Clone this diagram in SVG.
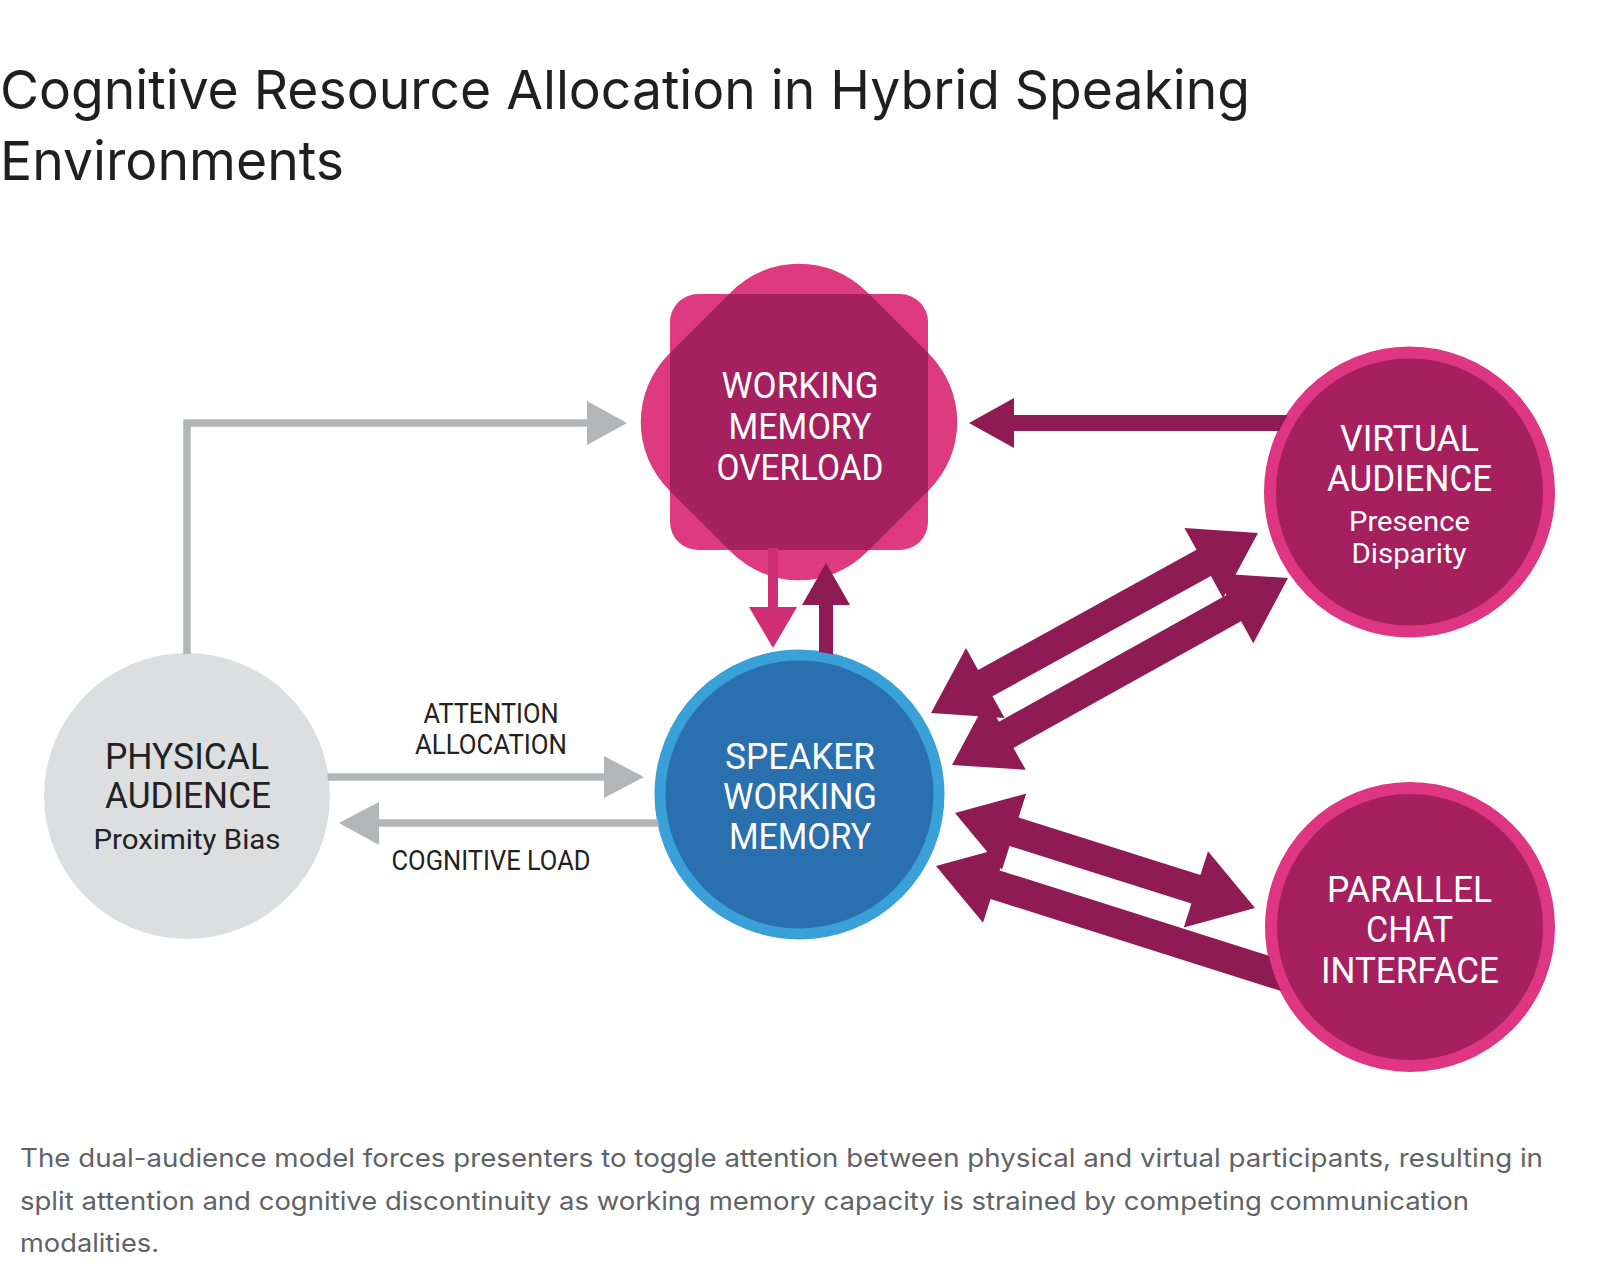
<svg xmlns="http://www.w3.org/2000/svg" width="1600" height="1278" viewBox="0 0 1600 1278">
<style>
.title{font-family:Inter,"Liberation Sans",sans-serif;font-size:54px;fill:#1f1f1f}
.cap{font-family:Inter,"Liberation Sans",sans-serif;font-size:25.5px;fill:#5f6368}
.lw{font-family:Roboto,"Liberation Sans",sans-serif;fill:#fff;text-anchor:middle}
.ld{font-family:Roboto,"Liberation Sans",sans-serif;fill:#222;text-anchor:middle}
.big{font-size:37px}
.sub{font-size:27.5px}
.edge{font-size:28px}
.gray{fill:#b3b5b8}
.gline{fill:none;stroke:#b3b5b8;stroke-width:7.5}
.mag{fill:#8e1b53}
.ring-p{fill:#a6205f;stroke:#de3682;stroke-width:12}
</style>
<defs>
<clipPath id="sq"><rect x="670" y="294" width="258" height="256" rx="28"/></clipPath>
<mask id="cut" maskUnits="userSpaceOnUse" x="0" y="0" width="1600" height="1278">
<rect width="1600" height="1278" fill="#fff"/>
<circle cx="1409.5" cy="492" r="144" fill="#000"/>
<circle cx="1410" cy="927" r="144" fill="#000"/>
<circle cx="799.5" cy="794.5" r="144" fill="#000"/>
<circle cx="187" cy="796" r="142" fill="#000"/>
</mask>
</defs>
<rect width="1600" height="1278" fill="#fff"/>

<g id="title">
<text class="title" x="0" y="109" textLength="1250" lengthAdjust="spacingAndGlyphs">Cognitive Resource Allocation in Hybrid Speaking</text>
<text class="title" x="0" y="180" textLength="344" lengthAdjust="spacingAndGlyphs">Environments</text>
</g>

<g id="node-wmo">
<rect x="670" y="294" width="258" height="256" rx="28" fill="#dd3a80"/>
<rect x="659" y="282" width="280" height="280" rx="96" fill="#dd3a80" transform="rotate(45 799 422)"/>
<g clip-path="url(#sq)">
<rect x="659" y="282" width="280" height="280" rx="96" fill="#a5205e" transform="rotate(45 799 422)"/>
</g>
<text class="lw big" x="800" y="398" textLength="157" lengthAdjust="spacingAndGlyphs">WORKING</text>
<text class="lw big" x="800" y="439" textLength="143" lengthAdjust="spacingAndGlyphs">MEMORY</text>
<text class="lw big" x="800" y="480" textLength="167" lengthAdjust="spacingAndGlyphs">OVERLOAD</text>
</g>

<g id="node-speaker">
<circle cx="799.5" cy="794.5" r="139.5" fill="#2a6fae" stroke="#3aa0d8" stroke-width="11"/>
<text class="lw big" x="800" y="769" textLength="150" lengthAdjust="spacingAndGlyphs">SPEAKER</text>
<text class="lw big" x="800" y="809" textLength="154" lengthAdjust="spacingAndGlyphs">WORKING</text>
<text class="lw big" x="800" y="849" textLength="142" lengthAdjust="spacingAndGlyphs">MEMORY</text>
</g>

<g id="node-physical">
<circle cx="187" cy="796" r="143" fill="#dcdee0"/>
<text class="ld big" x="187" y="769" textLength="164" lengthAdjust="spacingAndGlyphs">PHYSICAL</text>
<text class="ld big" x="188" y="808" textLength="166" lengthAdjust="spacingAndGlyphs">AUDIENCE</text>
<text class="ld sub" x="187" y="849" textLength="187" lengthAdjust="spacingAndGlyphs">Proximity Bias</text>
</g>

<g id="node-virtual">
<circle class="ring-p" cx="1409.5" cy="492" r="139.5"/>
<text class="lw big" x="1409.5" y="451" textLength="139" lengthAdjust="spacingAndGlyphs">VIRTUAL</text>
<text class="lw big" x="1409.5" y="491" textLength="165" lengthAdjust="spacingAndGlyphs">AUDIENCE</text>
<text class="lw sub" x="1409.5" y="531" textLength="121" lengthAdjust="spacingAndGlyphs">Presence</text>
<text class="lw sub" x="1409" y="563" textLength="115" lengthAdjust="spacingAndGlyphs">Disparity</text>
</g>

<g id="node-chat">
<circle class="ring-p" cx="1410" cy="927" r="139"/>
<text class="lw big" x="1409.5" y="902" textLength="165" lengthAdjust="spacingAndGlyphs">PARALLEL</text>
<text class="lw big" x="1409.5" y="942" textLength="87" lengthAdjust="spacingAndGlyphs">CHAT</text>
<text class="lw big" x="1410" y="983" textLength="178" lengthAdjust="spacingAndGlyphs">INTERFACE</text>
</g>

<g id="connectors" mask="url(#cut)">
<polyline class="gline" points="187,665 187,423 590,423"/>
<polygon class="gray" points="587,401 627,423 587,445"/>
<line class="gline" x1="325" y1="777" x2="606" y2="777"/>
<polygon class="gray" points="604,756 644,777 604,798"/>
<line class="gline" x1="665" y1="823" x2="377" y2="823"/>
<polygon class="gray" points="379,802 339,823 379,845"/>
<rect x="768" y="548" width="10" height="61" fill="#cf2d74"/>
<polygon fill="#cf2d74" points="749,607 797,607 773,648"/>
<rect x="819" y="603" width="14" height="60" class="mag"/>
<polygon class="mag" points="802,605 850,605 826,563"/>
<rect x="1012" y="415" width="290" height="16" class="mag"/>
<polygon class="mag" points="969,423 1014,398 1014,448"/>
<polygon class="mag" points="931,713 1004.6,718.1 992.5,696.2 1210.9,576 1223,597.9 1258,533 1184.4,527.9 1196.5,549.8 978.1,670 966,648.1"/>
<polygon class="mag" points="952,765 1025.7,769.8 1013.5,747.9 1241.1,621.3 1253.3,643.2 1288,578 1214.4,573.3 1226.5,595.1 998.9,721.7 986.8,699.9"/>
<polygon class="mag" points="955,813 1026.2,793.6 1018.6,817.4 1200.4,875 1208,851.2 1255,908 1183.8,927.4 1191.4,903.6 1009.6,846 1002,869.8"/>
<polygon class="mag" points="936,866 1007.2,846.6 999.6,870.4 1304.5,967 1295.5,995.6 990.6,899 983,922.8"/>
</g>

<g id="edge-labels">
<text class="ld edge" x="491" y="723" textLength="135" lengthAdjust="spacingAndGlyphs">ATTENTION</text>
<text class="ld edge" x="491" y="754" textLength="152" lengthAdjust="spacingAndGlyphs">ALLOCATION</text>
<text class="ld edge" x="491" y="870" textLength="199" lengthAdjust="spacingAndGlyphs">COGNITIVE LOAD</text>
</g>

<g id="caption">
<text class="cap" x="20" y="1167" textLength="1523" lengthAdjust="spacingAndGlyphs">The dual-audience model forces presenters to toggle attention between physical and virtual participants, resulting in</text>
<text class="cap" x="20" y="1210" textLength="1449" lengthAdjust="spacingAndGlyphs">split attention and cognitive discontinuity as working memory capacity is strained by competing communication</text>
<text class="cap" x="20" y="1252" textLength="139" lengthAdjust="spacingAndGlyphs">modalities.</text>
</g>
</svg>
